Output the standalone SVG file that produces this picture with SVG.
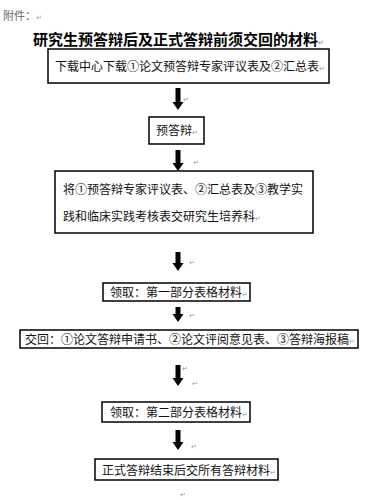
<svg xmlns="http://www.w3.org/2000/svg" width="370" height="500" viewBox="0 0 370 500">
<style>
.box{fill:#fff;stroke:#000;stroke-width:1.5}
.t{font-family:"Noto Sans CJK SC","Noto Sans",sans-serif;font-size:12px;fill:#111}
.title{font-family:"Noto Sans CJK SC","Noto Sans",sans-serif;font-size:15px;font-weight:bold;fill:#000}
.pm{font-family:"DejaVu Sans",sans-serif;font-size:7px;fill:#999}
.arr{fill:#000}
</style>
<rect width="370" height="500" fill="#fff"/>
<text x="3" y="20" font-family="'Noto Sans CJK SC',sans-serif" font-size="11" fill="#666">附件：<tspan class="pm">↵</tspan></text>
<text class="title" x="33" y="45">研究生预答辩后及正式答辩前须交回的材料<tspan class="pm">↵</tspan></text>

<g id="connectors">
<path class="arr" d="M175.5,88 h5 v14 h3 l-5.5,8 l-5.5,-8 h3 z"/>
<path class="arr" d="M175.5,150 h5 v13 h3 l-5.5,8 l-5.5,-8 h3 z"/>
<path class="arr" d="M175.5,252 h5 v11 h3 l-5.5,8 l-5.5,-8 h3 z"/>
<path class="arr" d="M175.5,307 h5 v7 h3 l-5.5,8 l-5.5,-8 h3 z"/>
<path class="arr" d="M175.5,365 h5 v13 h3 l-5.5,8 l-5.5,-8 h3 z"/>
<path class="arr" d="M175.5,430 h5 v12 h3 l-5.5,8 l-5.5,-8 h3 z"/>
<text class="pm" x="183" y="102">↵</text>
<text class="pm" x="193" y="165">↵</text>
<text class="pm" x="189" y="265">↵</text>
<text class="pm" x="189" y="318">↵</text>
<text class="pm" x="182" y="371">↵</text>
<text class="pm" x="192" y="386">↵</text>
<text class="pm" x="191" y="449">↵</text>
<text class="pm" x="180" y="497">↵</text>
</g>

<g id="n1">
<rect class="box" x="48" y="49" width="281" height="34"/>
<text class="t" x="55" y="71">下载中心下载①论文预答辩专家评议表及②汇总表<tspan class="pm">↵</tspan></text>
</g>
<g id="n2">
<rect class="box" x="149" y="117" width="55" height="27"/>
<text class="t" x="156" y="135">预答辩<tspan class="pm">↵</tspan></text>
</g>
<g id="n3">
<rect class="box" x="55" y="171" width="258" height="62"/>
<text class="t" x="63" y="194">将①预答辩专家评议表、②汇总表及③教学实</text>
<text class="t" x="63" y="221">践和临床实践考核表交研究生培养科<tspan class="pm">↵</tspan></text>
</g>
<g id="n4">
<rect class="box" x="103" y="283" width="147" height="18"/>
<text class="t" x="110" y="297">领取：第一部分表格材料<tspan class="pm">↵</tspan></text>
</g>
<g id="n5">
<rect class="box" x="20" y="330" width="338" height="18"/>
<text class="t" x="25" y="344">交回：①论文答辩申请书、②论文评阅意见表、③答辩海报稿<tspan class="pm">↵</tspan></text>
</g>
<g id="n6">
<rect class="box" x="102" y="402" width="148" height="20"/>
<text class="t" x="110" y="417">领取：第二部分表格材料<tspan class="pm">↵</tspan></text>
</g>
<g id="n7">
<rect class="box" x="95" y="459" width="183" height="21"/>
<text class="t" x="102" y="475">正式答辩结束后交所有答辩材料<tspan class="pm">↵</tspan></text>
</g>
</svg>
